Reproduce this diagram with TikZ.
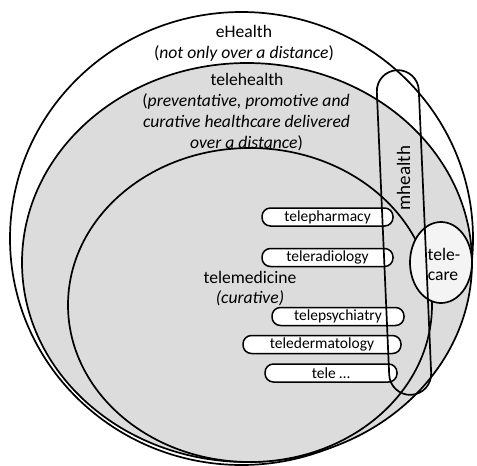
\documentclass[tikz,border=0pt]{standalone}
\usepackage{fontspec}
\setmainfont{Carlito}
\definecolor{shade}{RGB}{220,220,220}
\definecolor{paleshade}{RGB}{244,244,244}
\begin{document}
\begin{tikzpicture}[x=1pt,y=-1pt,
  outline/.style={draw=black,line width=1.7pt},
  maintext/.style={font=\fontsize{17.6}{20}\selectfont, inner sep=0pt, anchor=base},
  pill/.style={draw=black, line width=1.5pt, fill=white, rounded corners=8.5pt,
    minimum height=18pt, inner sep=0pt, font=\fontsize{15.5}{17}\selectfont}]
\useasboundingbox (0,0) rectangle (477,466);
\fill[white] (0,0) rectangle (477,466);
% eHealth
\draw[outline, fill=white] (241.5,238.5) ellipse [x radius=231.5, y radius=226.5];
% telehealth
\draw[outline, fill=shade] (247,262.5) ellipse [x radius=225, y radius=199.5];
% telemedicine
\draw[outline, fill=shade] (250,305) ellipse [x radius=182, y radius=157];
% texts
\node[maintext] (eh) at (244,37) {eHealth};
\node[maintext] (eh2) at (244,58) {(\textit{not only over a distance})};
\node[maintext] (th) at (247,85) {telehealth};
\node[maintext] (th2) at (246,106) {(\textit{preventative, promotive and}};
\node[maintext] (th3) at (246.5,127) {\textit{curative healthcare delivered}};
\node[maintext] (th4) at (246.5,148) {\textit{over a distance})};
\node[maintext] (tm) at (250,283) {telemedicine};
\node[maintext] (tm2) at (250,303) {\textit{(curative)}};
% pills
\node[pill, minimum width=131pt] (p1) at (327.5,217) {telepharmacy};
\node[pill, minimum width=131pt] (p2) at (327.5,257.5) {teleradiology};
\node[pill, minimum width=132pt] (p3) at (338,316.5) {telepsychiatry};
\node[pill, minimum width=158pt] (p4) at (322,344.5) {teledermatology};
\node[pill, minimum width=132pt] (p5) at (331,373) {tele …};
% telecare
\draw[outline, fill=paleshade] (441,262.5) ellipse [x radius=31, y radius=40.5];
\node[maintext] (tc1) at (444,260) {tele-};
\node[maintext] (tc2) at (443,280) {care};
% mhealth
\node[draw=black, line width=1.7pt, rounded corners=21pt, minimum width=42pt,
  minimum height=325pt, rotate=2.5, inner sep=0pt] (mh) at (404,232.5) {};
\node[maintext, anchor=center, rotate=90, font=\fontsize{19}{21}\selectfont] (mht) at (403.5,178) {mhealth};
\end{tikzpicture}
\end{document}
